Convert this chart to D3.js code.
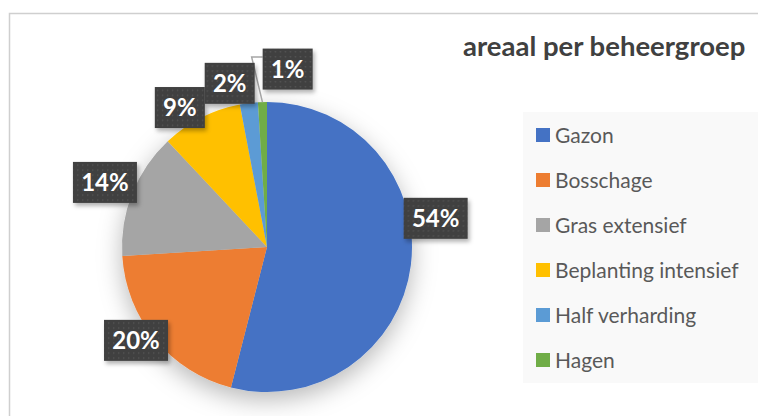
<!DOCTYPE html>
<html>
<head>
<meta charset="utf-8">
<script src="https://cdn.jsdelivr.net/npm/d3@7"></script>
<style>
  html, body { margin: 0; padding: 0; background: #ffffff; }
  svg { display: block; font-family: Lato, "Open Sans", sans-serif; }
</style>
</head>
<body>
<div id="chart"></div>
<script>
const title = "areaal per beheergroep";
const categories = ["Gazon", "Bosschage", "Gras extensief", "Beplanting intensief", "Half verharding", "Hagen"];
const shares = [54, 20, 14, 9, 2, 1];
const colors = ["#4472C4", "#ED7D31", "#A5A5A5", "#FFC000", "#5B9BD5", "#70AD47"];

const width = 758, height = 416;
const cx = 267, cy = 247, radius = 145;
const labelRadius = 170;
// best-fit style shifts for the data labels, like Excel places them
const labelNudge = { "Gazon": [0, -50], "Bosschage": [0, -15], "Gras extensief": [-4, -2],
  "Beplanting intensief": [-10, 12], "Half verharding": [-16, 5], "Hagen": [26, -8] };

const data = categories.map((c, i) => ({ name: c, value: shares[i] }));

const svg = d3.select("#chart").append("svg")
  .attr("width", width).attr("height", height)
  .attr("viewBox", [0, 0, width, height]);

const defs = svg.append("defs");
const dots = defs.append("pattern").attr("id", "dots")
  .attr("patternUnits", "userSpaceOnUse").attr("width", 5).attr("height", 5);
dots.append("rect").attr("width", 5).attr("height", 5).attr("fill", "#3f3f3f");
dots.append("rect").attr("x", 2).attr("y", 2).attr("width", 1.4).attr("height", 1.4).attr("fill", "#575757");

defs.append("filter").attr("id", "pieShadow")
  .attr("x", "-30%").attr("y", "-30%").attr("width", "160%").attr("height", "160%")
  .append("feDropShadow").attr("dx", 0).attr("dy", 8).attr("stdDeviation", 12)
  .attr("flood-color", "#000").attr("flood-opacity", 0.28);
defs.append("filter").attr("id", "boxShadow")
  .attr("x", "-30%").attr("y", "-30%").attr("width", "160%").attr("height", "160%")
  .append("feDropShadow").attr("dx", 2).attr("dy", 3).attr("stdDeviation", 2)
  .attr("flood-color", "#000").attr("flood-opacity", 0.3);

// chart area border (cropped on the right and bottom)
svg.append("rect")
  .attr("x", 9.5).attr("y", 13.5).attr("width", 900).attr("height", 600)
  .attr("fill", "none").attr("stroke", "#cfcfcf").attr("stroke-width", 1.5);

svg.append("text")
  .attr("x", 463).attr("y", 56)
  .attr("font-size", 27.5).attr("font-weight", 700).attr("fill", "#404040")
  .text(title);

const color = d3.scaleOrdinal().domain(categories).range(colors);
const pie = d3.pie().value(d => d.value).sort(null);
const arc = d3.arc().innerRadius(0).outerRadius(radius);
const labelArc = d3.arc().innerRadius(labelRadius).outerRadius(labelRadius);
const arcs = pie(data);

const g = svg.append("g").attr("transform", `translate(${cx},${cy})`);
g.append("g").attr("filter", "url(#pieShadow)")
  .selectAll("path").data(arcs).join("path")
  .attr("d", arc)
  .attr("fill", d => color(d.data.name));

const labelPos = d => {
  const [x, y] = labelArc.centroid(d);
  const n = labelNudge[d.data.name] || [0, 0];
  return [x + n[0], y + n[1]];
};
const boxSize = d => [String(d.data.value).length > 1 ? 64 : 50, 41];

// leader line for the smallest slice
const leaders = g.append("g");
const small = arcs[arcs.length - 1];
{
  const [lx, ly] = labelPos(small);
  const bx = lx - boxSize(small)[0] / 2, by = ly - 12;
  const mid = (small.startAngle + small.endAngle) / 2;
  const px = Math.sin(mid) * radius, py = -Math.cos(mid) * radius;
  leaders.append("path")
    .attr("d", d3.line()([[bx, by], [bx - 11, by], [px, py]]))
    .attr("fill", "none").attr("stroke", "#a6a6a6").attr("stroke-width", 1.5);
}

// data labels
const labels = g.append("g").selectAll("g").data(arcs).join("g")
  .attr("transform", d => `translate(${labelPos(d)})`);
labels.append("rect")
  .attr("x", d => -boxSize(d)[0] / 2).attr("y", d => -boxSize(d)[1] / 2)
  .attr("width", d => boxSize(d)[0]).attr("height", d => boxSize(d)[1])
  .attr("fill", "url(#dots)").attr("filter", "url(#boxShadow)");
labels.append("text")
  .attr("text-anchor", "middle").attr("dy", "0.36em")
  .attr("font-size", 24).attr("font-weight", 700).attr("fill", "#ffffff")
  .text(d => `${d.data.value}%`);

// legend
const legend = svg.append("g");
legend.append("rect")
  .attr("x", 523).attr("y", 112).attr("width", 260).attr("height", 271)
  .attr("fill", "#f9f9f9");
const legendY = d3.scalePoint().domain(categories).range([135, 360]);
const items = legend.selectAll("g.item").data(categories).join("g")
  .attr("class", "item")
  .attr("transform", d => `translate(536,${legendY(d)})`);
items.append("rect").attr("x", 0).attr("y", -7).attr("width", 14).attr("height", 14)
  .attr("fill", d => color(d));
items.append("text").attr("x", 19).attr("dy", "0.36em")
  .attr("font-size", 21).attr("fill", "#595959")
  .text(d => d);
</script>
</body>
</html>
